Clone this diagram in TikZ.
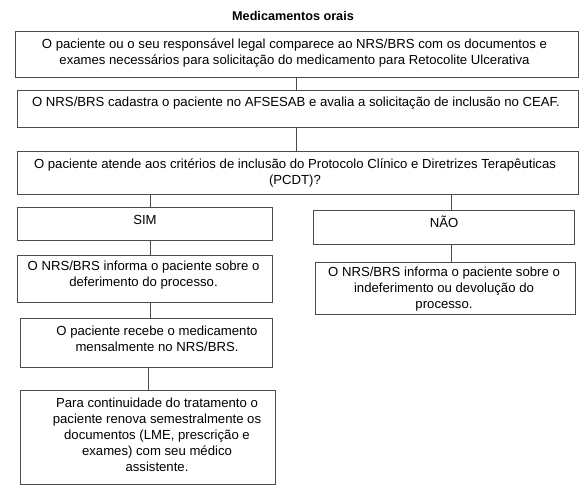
\documentclass[tikz,border=0pt]{standalone}
\usepackage{fontspec}
\setmainfont{Liberation Sans}
\definecolor{boxgray}{gray}{0.3}
\begin{document}
\begin{tikzpicture}[x=1bp,y={(0bp,-1bp)},
  box/.style={draw=boxgray, line width=0.9bp, inner sep=0, minimum width=#1},
  txt/.style={align=center, inner sep=0, font=\fontsize{13.2}{16}\selectfont},
  conn/.style={draw=boxgray, line width=0.9bp}]
\useasboundingbox (0,0) rectangle (587,499);
\node[font=\bfseries\fontsize{12.7}{15}\selectfont, inner sep=0] (title) at (293,16) {Medicamentos orais};
% boxes
\node[box=563bp, minimum height=46bp] (b1) at (296.5,54) {};
\node[box=561bp, minimum height=37bp] (b2) at (297.5,108.5) {};
\node[box=561bp, minimum height=43bp] (b3) at (297.5,172.5) {};
\node[box=255bp, minimum height=33bp] (sim) at (144.5,223.5) {};
\node[box=261bp, minimum height=34bp] (nao) at (443.5,227) {};
\node[box=255bp, minimum height=47bp] (d1) at (144.5,278.5) {};
\node[box=260bp, minimum height=52bp] (n1) at (445,288) {};
\node[box=252bp, minimum height=49bp] (d2) at (146,342.5) {};
\node[box=255bp, minimum height=94bp] (d3) at (147.5,437) {};
% texts
\node[txt] (b1t) at (294.5,53) {O paciente ou o seu responsável legal comparece ao NRS/BRS com os documentos e\\exames necessários para solicitação do medicamento para Retocolite Ulcerativa};
\node[txt] (b2t) at (296,103) {O NRS/BRS cadastra o paciente no AFSESAB e avalia a solicitação de inclusão no CEAF.};
\node[txt] (b3t) at (295,173) {O paciente atende aos critérios de inclusão do Protocolo Clínico e Diretrizes Terapêuticas\\(PCDT)?};
\node[txt] (simt) at (145,220) {SIM};
\node[txt] (naot) at (444,222) {NÃO};
\node[txt] (d1t) at (143.5,275.5) {O NRS/BRS informa o paciente sobre o\\deferimento do processo.};
\node[txt] (n1t) at (444,289) {O NRS/BRS informa o paciente sobre o\\indeferimento ou devolução do\\processo.};
\node[txt] (d2t) at (157,339) {O paciente recebe o medicamento\\mensalmente no NRS/BRS.};
\node[txt] (d3t) at (157,435) {Para continuidade do tratamento o\\paciente renova semestralmente os\\documentos (LME, prescrição e\\exames) com seu médico\\assistente.};
% connectors
\coordinate (cx) at (296,0);
\coordinate (lx) at (150,0);
\coordinate (rx) at (451,0);
\coordinate (lx2) at (148,0);
\draw[conn] (cx |- b1.south) -- (cx |- b2.north);
\draw[conn] (cx |- b2.south) -- (cx |- b3.north);
\draw[conn] (lx |- b3.south) -- (lx |- sim.north);
\draw[conn] (rx |- b3.south) -- (rx |- nao.north);
\draw[conn] (lx |- sim.south) -- (lx |- d1.north);
\draw[conn] (rx |- nao.south) -- (rx |- n1.north);
\draw[conn] (lx |- d1.south) -- (lx |- d2.north);
\draw[conn] (lx2 |- d2.south) -- (lx2 |- d3.north);
\end{tikzpicture}
\end{document}
